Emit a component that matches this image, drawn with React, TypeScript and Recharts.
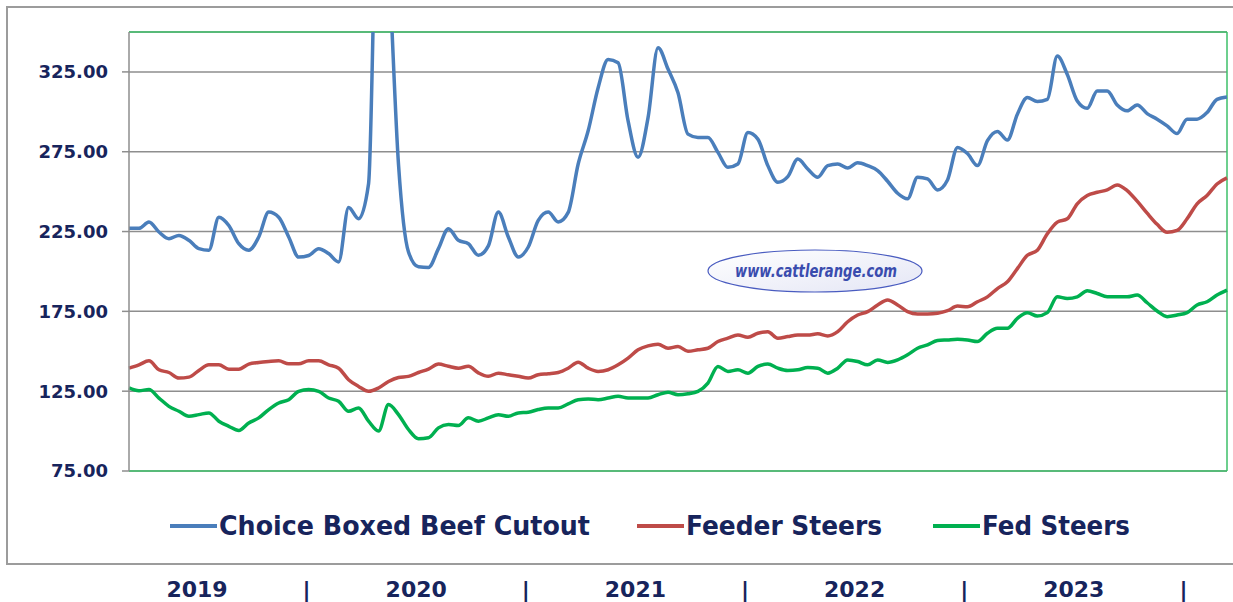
import React from 'react'
import {
  LineChart,
  Line,
  XAxis,
  YAxis,
  CartesianGrid,
  ReferenceLine,
} from 'recharts'

// Weekly-ish readings, Mar 2019 through Mar 2024 ($/cwt)
const boxedBeef = [
  227, 227, 231, 224.7, 220.5, 222.6, 219.5, 214.3, 213.3, 234, 228.8, 217.4, 213.3, 221.6, 237.2, 234, 221.6, 209, 210,
  214.3, 211.2, 206, 240, 233, 255, 472, 395, 267, 212.2, 202.9, 202.5, 214.3, 226.8, 219.5, 217.4, 210.1, 216,
  237.2, 221.6, 209.1, 215.3, 232, 237.2, 231, 237, 267.3, 288.1, 315.1, 332.8, 330.7, 294.3, 271.5, 296.4, 340.1, 326.8,
  311.9, 286, 283.9, 283.9, 274.6, 265.2, 267.3, 287, 282.9, 266.3, 255.9, 259.4, 270.4, 264.2, 259, 266.3, 267.3, 264.8,
  268.1, 266.3, 263.2, 256.5, 249, 245.5, 259, 258, 251.1, 257.3, 277.7, 273.9, 266.3, 281.9, 287.7, 282.3, 298.5, 308.9,
  306.4, 307.8, 334.9, 323.4, 306.8, 302.2, 313, 313, 304.3, 300.6, 304.3, 298.9, 295.4, 291.2, 286.4, 295.4, 295.4, 299.5, 307.8, 309.3,
]

const feederSteers = [
  139.4, 141.5, 144, 138.4, 136.7, 133.2, 133.8, 138, 141.5, 141.5, 138.8, 138.8, 142, 143, 143.6, 144, 142.2, 142.2, 144,
  144, 141.5, 139.4, 132.2, 128, 124.9, 127, 131.1, 133.6, 134.3, 136.7, 138.8, 142, 140.6, 139.4, 140.6, 136.5, 134.3,
  136.3, 135.3, 134.3, 133.2, 135.3, 135.9, 136.7, 139.4, 143.2, 139.4, 137.4, 138.4, 141.5, 145.7, 150.9, 153.4, 154.4, 151.9,
  153, 150, 150.9, 151.9, 156.1, 158.2, 160.2, 158.8, 161.3, 162.3, 158.2, 159.2, 160.2, 160.2, 160.9, 159.6, 162.3, 168.5,
  172.7, 174.8, 179, 182.1, 179, 174.8, 173.3, 173.3, 173.8, 175.4, 178.3, 177.9, 181, 184.1, 189.3, 193.5, 201.8, 210.1,
  213.3, 223.6, 230.9, 233, 242.4, 247.6, 249.6, 251.1, 254.2, 250.7, 244, 236.5, 229.5, 224.5, 225.7, 233, 242.4, 247.6, 254.8, 258.6,
]

const fedSteers = [
  127, 125.3, 126, 120.7, 115.5, 112.4, 109.3, 110.3, 111.4, 106.2, 103, 100.4, 105.1, 108.3, 113.5, 117.6, 119.7, 124.9, 126,
  124.9, 120.7, 118.7, 112.4, 114.5, 106.2, 100, 116.6, 110.3, 101, 95.2, 95.8, 102, 104.1, 103.5, 108.3, 106.2, 108.3,
  110.3, 109.3, 111.4, 111.8, 113.5, 114.5, 114.5, 117, 119.7, 120.1, 119.7, 120.7, 121.8, 120.7, 120.7, 120.7, 122.8, 124.3,
  122.8, 123.4, 124.9, 130.1, 140.5, 137.4, 138.4, 136.3, 140.5, 142, 139.4, 138, 138.4, 139.8, 139.4, 136.3, 139.4, 144.6,
  143.6, 141.5, 144.6, 143, 144.6, 147.8, 151.9, 154, 156.7, 157.1, 157.5, 157.1, 156.1, 161.3, 164.4, 164.4, 170.6, 174.2,
  172.1, 174.2, 184.1, 183.1, 184.1, 187.9, 186.2, 184.1, 184.1, 184.1, 185.2, 180.4, 175.2, 171.7, 172.7, 174.2, 179, 181, 185.2, 188.3,
]

const yTicks = [75, 125, 175, 225, 275, 325]
const yearLabels = ['2019', '|', '2020', '|', '2021', '|', '2022', '|', '2023', '|']
const seriesNames = ['Choice Boxed Beef Cutout', 'Feeder Steers', 'Fed Steers']
const watermark = 'www.cattlerange.com'

const NAVY = '#17245c'
const GRID = '#8e8e8e'
const FRAME_GREEN = '#3cbf68'
const COLORS = ['#4a7ebb', '#be4b48', '#00b050']

const chartData = boxedBeef.map((v, i) => ({
  idx: i,
  beef: v,
  feeder: feederSteers[i],
  fed: fedSteers[i],
}))

function ChartLegend() {
  // line swatch + label, laid out left to right
  const items = [
    { x: 170, len: 371 },
    { x: 637, len: 196 },
    { x: 933, len: 148 },
  ]
  return (
    <svg width={1233} height={45} style={{ position: 'absolute', left: 0, top: 504 }}>
      {seriesNames.map((name, i) => (
        <g key={name}>
          <line x1={items[i].x} x2={items[i].x + 47} y1={22} y2={22} stroke={COLORS[i]} strokeWidth={4} />
          <text
            x={items[i].x + 49}
            y={31}
            fill={NAVY}
            fontFamily="DejaVu Sans, sans-serif"
            fontWeight="bold"
            fontSize={27}
            textLength={items[i].len}
            lengthAdjust="spacingAndGlyphs"
          >
            {name}
          </text>
        </g>
      ))}
    </svg>
  )
}

function YearRow() {
  return (
    <svg width={1233} height={40} style={{ position: 'absolute', left: 0, top: 565 }}>
      {yearLabels.map((t, i) => (
        <text
          key={i}
          x={197 + i * 109.6}
          y={32}
          textAnchor="middle"
          fill={NAVY}
          fontFamily="DejaVu Sans, sans-serif"
          fontWeight="bold"
          fontSize={22}
        >
          {t}
        </text>
      ))}
    </svg>
  )
}

function Watermark() {
  // svg spans x 655..975, ellipse centred at page x 815
  return (
    <svg width={320} height={60} style={{ position: 'absolute', left: 655, top: 241 }}>
      <defs>
        <linearGradient id="wm" x1="0" y1="0" x2="1" y2="1">
          <stop offset="0%" stopColor="#ffffff" />
          <stop offset="100%" stopColor="#e4e6f5" />
        </linearGradient>
      </defs>
      <ellipse cx={160} cy={30} rx={107} ry={21} fill="url(#wm)" stroke="#4a5cc0" strokeWidth={1.2} />
      <text
        x={161}
        y={36}
        textAnchor="middle"
        fill="#3a4cae"
        fontFamily="DejaVu Sans, sans-serif"
        fontWeight="bold"
        fontStyle="italic"
        fontSize={17}
        textLength={162}
        lengthAdjust="spacingAndGlyphs"
      >
        {watermark}
      </text>
    </svg>
  )
}

export default function App() {
  return (
    <div
      style={{
        position: 'absolute',
        left: 0,
        top: 0,
        width: 1233,
        height: 602,
        overflow: 'hidden',
        background: '#fff',
      }}
    >
      {/* outer frame */}
      <div
        style={{
          position: 'absolute',
          left: 6,
          top: 6,
          width: 1260,
          height: 555,
          border: '2px solid #9c9c9c',
        }}
      />
      <div style={{ position: 'absolute', left: 0, top: 0 }}>
        <LineChart width={1233} height={602} data={chartData} margin={{ top: 32, right: 6, bottom: 131, left: 0 }}>
          <CartesianGrid vertical={false} stroke={GRID} strokeWidth={1.5} />
          <XAxis dataKey="idx" type="number" domain={[0, chartData.length - 1]} hide />
          <YAxis
            domain={[75, 350]}
            ticks={yTicks}
            allowDataOverflow
            width={129}
            tickSize={7}
            tickMargin={14}
            axisLine={{ stroke: GRID, strokeWidth: 1.5 }}
            tickLine={{ stroke: GRID, strokeWidth: 1.5 }}
            tickFormatter={(v: number) => v.toFixed(2)}
            tick={{ fill: NAVY, fontSize: 18, fontWeight: 'bold', fontFamily: 'DejaVu Sans, sans-serif' }}
          />
          <ReferenceLine y={350} stroke={FRAME_GREEN} strokeWidth={1.5} />
          <ReferenceLine y={75} stroke={FRAME_GREEN} strokeWidth={1.5} />
          <ReferenceLine x={chartData.length - 1} stroke={FRAME_GREEN} strokeWidth={1.5} />
          <Line
            dataKey="beef"
            name={seriesNames[0]}
            type="monotone"
            stroke={COLORS[0]}
            strokeWidth={3.5}
            dot={false}
            isAnimationActive={false}
          />
          <Line
            dataKey="feeder"
            name={seriesNames[1]}
            type="monotone"
            stroke={COLORS[1]}
            strokeWidth={3.5}
            dot={false}
            isAnimationActive={false}
          />
          <Line
            dataKey="fed"
            name={seriesNames[2]}
            type="monotone"
            stroke={COLORS[2]}
            strokeWidth={3.5}
            dot={false}
            isAnimationActive={false}
          />
        </LineChart>
      </div>
      <Watermark />
      <ChartLegend />
      <YearRow />
    </div>
  )
}
